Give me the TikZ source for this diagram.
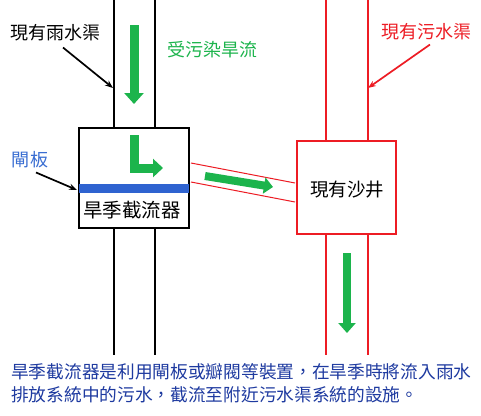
\documentclass[tikz,border=0pt]{standalone}
\usepackage{fontspec}
\setmainfont{Noto Sans CJK TC}
\usetikzlibrary{arrows.meta,calc}
\definecolor{pgreen}{RGB}{28,180,76}
\definecolor{pred}{RGB}{237,28,36}
\definecolor{pblue}{RGB}{47,99,208}
\definecolor{tblue}{RGB}{58,110,210}
\definecolor{nblue}{RGB}{30,58,160}
\tikzset{
  pipe/.style={line width=2.6pt,black},
  rpipe/.style={line width=2.6pt,pred},
  flow/.style={line width=9pt,pgreen,-{Triangle[width=19pt,length=11pt]}},
  pointer/.style={line width=1.7pt,-{Stealth[length=8pt,width=6pt]}},
  lbl/.style={font=\fontsize{18}{21}\selectfont,inner sep=0pt},
  boxnode/.style={draw,line width=2pt,minimum width=110pt,minimum height=100pt,inner sep=0pt,fill=white},
}
\begin{document}
\begin{tikzpicture}[x=1pt,y=-1pt]
\useasboundingbox (0,0) rectangle (481,415);
\fill[white] (0,0) rectangle (481,415);
% left pipe (rain)
\coordinate (lt1) at (114,0); \coordinate (lt2) at (155,0);
\coordinate (lb1) at (114,355); \coordinate (lb2) at (155,355);
% box 1
\node[boxnode,anchor=north west] (b1) at (78,127) {};
\draw[pipe] (lt1) -- (lt1 |- b1.north);
\draw[pipe] (lt2) -- (lt2 |- b1.north);
\draw[pipe] (b1.south -| lb1) -- (lb1);
\draw[pipe] (b1.south -| lb2) -- (lb2);
\fill[pblue] ($(b1.north west)+(1,57)$) rectangle ($(b1.north east)+(-1,66)$);
\node[lbl,font=\fontsize{19.5}{22}\selectfont] (b1t) at (132,210) {旱季截流器};
% box 2
\node[boxnode,draw=pred,line width=1.8pt,minimum width=99pt,minimum height=93pt,anchor=north west] (b2) at (296,140) {};
\node[lbl,font=\fontsize{18.5}{21}\selectfont] (b2t) at (347,190) {現有沙井};
\coordinate (rt1) at (326,0); \coordinate (rt2) at (368,0);
\coordinate (rb1) at (326,355); \coordinate (rb2) at (368,355);
\draw[rpipe] (rt1) -- (rt1 |- b2.north);
\draw[rpipe] (rt2) -- (rt2 |- b2.north);
\draw[rpipe] (b2.south -| rb1) -- (rb1);
\draw[rpipe] (b2.south -| rb2) -- (rb2);
% connecting pipe
\coordinate (c1a) at ($(b1.north east)+(1,36)$);
\coordinate (c1b) at ($(b1.north east)+(1,55)$);
\coordinate (c2a) at ($(b2.north west)+(-1,43)$);
\coordinate (c2b) at ($(b2.north west)+(-1,62)$);
\draw[pred,line width=1pt] (c1a) -- (c2a);
\draw[pred,line width=1pt] (c1b) -- (c2b);
% green flows
\coordinate (f1s) at (134,25); \coordinate (f1e) at (134,104);
\draw[flow] (f1s) -- (f1e);
\coordinate (f2s) at (134,135); \coordinate (f2m) at (134,168); \coordinate (f2e) at (163,168);
\draw[flow,line join=miter,-{Triangle[width=18pt,length=10pt]}] (f2s) -- (f2m) -- (f2e);
\coordinate (f3s) at (205,176); \coordinate (f3e) at (273,187);
\draw[flow,line width=8pt,-{Triangle[width=16pt,length=9pt]}] (f3s) -- (f3e);
\coordinate (f4s) at (347,253); \coordinate (f4e) at (347,333);
\draw[flow,line width=8pt,-{Triangle[width=17pt,length=10pt]}] (f4s) -- (f4e);
% labels
\node[lbl] (l1) at (55,33) {現有雨水渠};
\coordinate (p1) at (113,88);
\draw[pointer] ($(l1.south)+(8,6)$) -- (p1);
\node[lbl,text=pgreen] (l2) at (212,50) {受污染旱流};
\node[lbl,text=tblue] (l3) at (30,160) {閘板};
\coordinate (p3) at (77,190);
\draw[pointer] ($(l3.south)+(6,4)$) -- (p3);
\node[lbl,text=pred] (l4) at (426,32) {現有污水渠};
\coordinate (p4) at (368,88);
\draw[pointer,pred] ($(l4.south)+(4,4)$) -- (p4);
% caption
\node[lbl,text=nblue,anchor=north west,align=left,font=\fontsize{17.7}{23}\selectfont] (cap) at (11,363)
  {旱季截流器是利用閘板或瓣閥等裝置，在旱季時將流入雨水\\排放系統中的污水，截流至附近污水渠系統的設施。};
\end{tikzpicture}
\end{document}
